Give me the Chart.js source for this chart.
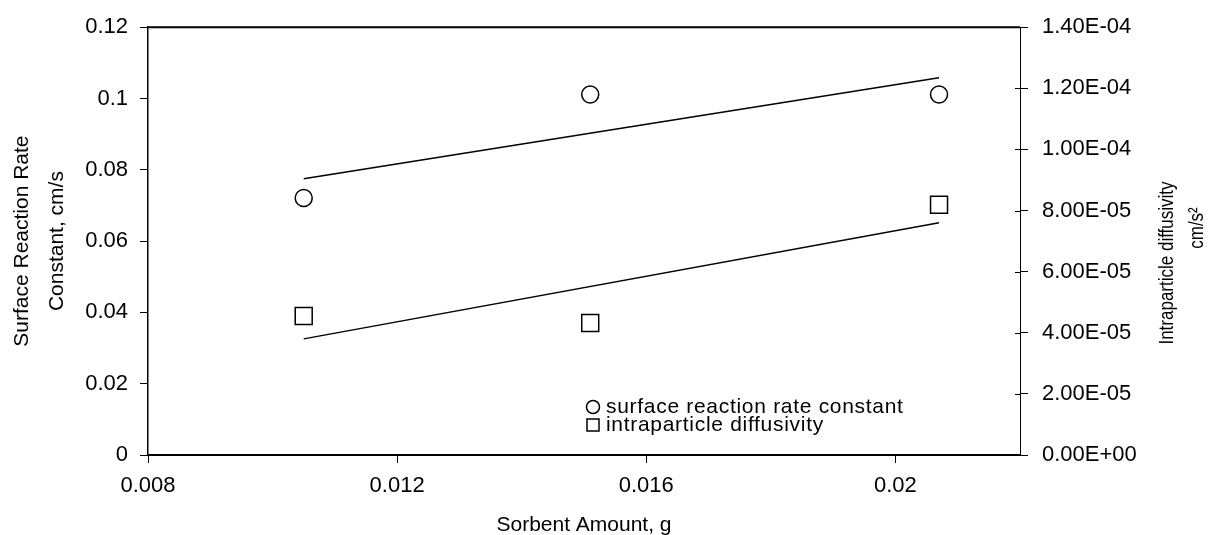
<!DOCTYPE html>
<html>
<head>
<meta charset="utf-8">
<script src="https://cdn.jsdelivr.net/npm/chart.js@4"></script>
<style>
  html, body { margin: 0; padding: 0; background: #fff; }
</style>
</head>
<body>
<canvas id="chart" width="1210" height="535"></canvas>
<script>
// measured points
const sorbentAmount = [0.0105, 0.0151, 0.0207];
const surfaceRate = [0.0721, 0.1011, 0.1011];
const diffusivity = [4.55e-5, 4.32e-5, 8.19e-5];

// trend line end points
const trendX = [0.0105, 0.0207];
const rateTrend = [0.0775, 0.1058];
const diffTrend = [3.80e-5, 7.60e-5];

// axis ticks
const xTicks = [0.008, 0.012, 0.016, 0.02];
const xTickLabels = ['0.008', '0.012', '0.016', '0.02'];
const leftTicks = [0, 0.02, 0.04, 0.06, 0.08, 0.1, 0.12];
const leftTickLabels = ['0', '0.02', '0.04', '0.06', '0.08', '0.1', '0.12'];
const rightTicks = [0, 2e-5, 4e-5, 6e-5, 8e-5, 1e-4, 1.2e-4, 1.4e-4];
const rightTickLabels = ['0.00E+00', '2.00E-05', '4.00E-05', '6.00E-05', '8.00E-05', '1.00E-04', '1.20E-04', '1.40E-04'];

const legendLabels = ['surface reaction rate constant', 'intraparticle diffusivity'];
const rightTitle = ['Intraparticle diffusivity', 'cm/s\u00B2'];

const FONT = "'Liberation Sans', Arial, sans-serif";

const toPoints = (xs, ys) => xs.map((x, i) => ({ x: x, y: ys[i] }));

// top frame line, inner ticks on the right axis, right axis title and the legend
const extras = {
    id: 'extras',
    afterDraw(chart) {
        const ctx = chart.ctx;
        const a = chart.chartArea;
        const y2 = chart.scales.y2;
        ctx.save();
        ctx.strokeStyle = '#000';
        ctx.lineWidth = 2;
        ctx.beginPath();
        ctx.moveTo(a.left, a.top);
        ctx.lineTo(a.right, a.top);
        ctx.stroke();

        // right axis ticks cross the axis line
        ctx.lineWidth = 1;
        ctx.beginPath();
        rightTicks.forEach(v => {
            const py = Math.round(y2.getPixelForValue(v)) + 0.5;
            ctx.moveTo(a.right - 5, py);
            ctx.lineTo(a.right, py);
        });
        ctx.stroke();

        ctx.fillStyle = '#000';
        ctx.textAlign = 'center';
        ctx.textBaseline = 'middle';
        ctx.font = '17px ' + FONT;
        ctx.save();
        ctx.translate(1167, 263);
        ctx.rotate(-Math.PI / 2);
        ctx.scale(1, 1.2);
        ctx.fillText(rightTitle[0], 0, 0);
        ctx.restore();
        ctx.save();
        ctx.translate(1197, 228);
        ctx.rotate(-Math.PI / 2);
        ctx.scale(1, 1.2);
        ctx.fillText(rightTitle[1], 0, 0);
        ctx.restore();

        // legend
        ctx.lineWidth = 1.5;
        ctx.beginPath();
        ctx.arc(593, 407, 6.5, 0, Math.PI * 2);
        ctx.stroke();
        ctx.strokeRect(587, 419, 12, 12);
        ctx.textAlign = 'left';
        ctx.font = '21px ' + FONT;
        ctx.letterSpacing = '0.7px';
        ctx.fillText(legendLabels[0], 606, 407);
        ctx.fillText(legendLabels[1], 606, 425);
        ctx.restore();
    }
};

const axisGrid = { drawOnChartArea: false, drawTicks: true, tickLength: 8, color: '#000', lineWidth: 1 };

new Chart(document.getElementById('chart'), {
    type: 'scatter',
    data: {
        datasets: [
            {
                label: legendLabels[0],
                data: toPoints(sorbentAmount, surfaceRate),
                yAxisID: 'y',
                pointStyle: 'circle',
                pointRadius: 8.5,
                borderWidth: 1.5,
                borderColor: '#000',
                backgroundColor: 'rgba(0,0,0,0)'
            },
            {
                label: legendLabels[1],
                data: toPoints(sorbentAmount, diffusivity),
                yAxisID: 'y2',
                pointStyle: 'rect',
                pointRadius: 12,
                borderWidth: 1.5,
                borderColor: '#000',
                backgroundColor: 'rgba(0,0,0,0)'
            },
            {
                type: 'line',
                data: toPoints(trendX, rateTrend),
                yAxisID: 'y',
                borderColor: '#000',
                borderWidth: 1.5,
                pointRadius: 0,
                fill: false
            },
            {
                type: 'line',
                data: toPoints(trendX, diffTrend),
                yAxisID: 'y2',
                borderColor: '#000',
                borderWidth: 1.5,
                pointRadius: 0,
                fill: false
            }
        ]
    },
    options: {
        responsive: false,
        animation: false,
        devicePixelRatio: 1,
        layout: { padding: { top: 24, left: 0, right: 0, bottom: 0 } },
        plugins: { legend: { display: false }, tooltip: { enabled: false } },
        scales: {
            x: {
                type: 'linear',
                min: 0.008,
                max: 0.022,
                afterBuildTicks: s => { s.ticks = xTicks.map(v => ({ value: v })); },
                afterFit: s => { s.height = 80; },
                ticks: {
                    color: '#000',
                    font: { family: FONT, size: 22 },
                    padding: 10,
                    maxRotation: 0,
                    callback: (v, i) => xTickLabels[i]
                },
                grid: axisGrid,
                border: { color: '#000', width: 2 },
                title: {
                    display: true,
                    text: 'Sorbent Amount, g',
                    color: '#000',
                    font: { family: FONT, size: 21, lineHeight: 0.9 },
                    padding: { top: 0, bottom: 0 }
                }
            },
            y: {
                type: 'linear',
                position: 'left',
                min: 0,
                max: 0.12,
                afterBuildTicks: s => { s.ticks = leftTicks.map(v => ({ value: v })); },
                afterFit: s => { s.width = 148; },
                ticks: {
                    color: '#000',
                    font: { family: FONT, size: 22 },
                    padding: 12,
                    callback: (v, i) => leftTickLabels[i]
                },
                grid: axisGrid,
                border: { color: '#000', width: 1.5 },
                title: {
                    display: true,
                    text: ['Surface Reaction Rate', 'Constant, cm/s'],
                    color: '#000',
                    font: { family: FONT, size: 21, lineHeight: 1.65 },
                    padding: { top: 5, bottom: 0 }
                }
            },
            y2: {
                type: 'linear',
                position: 'right',
                min: 0,
                max: 1.4e-4,
                afterBuildTicks: s => { s.ticks = rightTicks.map(v => ({ value: v })); },
                afterFit: s => { s.width = 190; },
                ticks: {
                    color: '#000',
                    font: { family: FONT, size: 22 },
                    padding: 14,
                    callback: (v, i) => rightTickLabels[i]
                },
                grid: axisGrid,
                border: { color: '#000', width: 1 }
            }
        }
    },
    plugins: [extras]
});
</script>
</body>
</html>
